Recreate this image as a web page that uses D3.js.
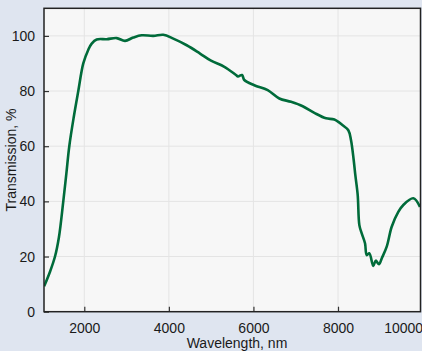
<!DOCTYPE html>
<html><head><meta charset="utf-8">
<script src="https://cdn.jsdelivr.net/npm/d3@7"></script>
<style>
html,body{margin:0;padding:0;background:#dfe5f0;}
svg{display:block;font-family:"Liberation Sans",Arial,sans-serif;}
</style></head>
<body><svg id="c" width="422" height="351"></svg>
<script>
const wavelength = [1050,1189,1307,1400,1503,1575,1645,1750,1858,1976,2095,2175,2293,2530,2766,2963,3159,3358,3632,3868,4105,4422,4737,4997,5312,5588,5635,5730,5784,6021,6338,6612,6889,7166,7440,7717,7913,8111,8244,8308,8371,8410,8466,8505,8561,8639,8679,8740,8835,8892,8970,9034,9152,9270,9426,9545,9781,9939];
const transmission = [9.2,14.5,20,27,40,50,60,70.5,80,90,95,97.2,98.7,98.8,99.2,98.2,99.4,100.2,100,100.4,99,96.6,93.6,91,88.8,85.8,85.3,85.8,84.0,82.1,80.3,77.3,76.1,74.5,72.1,70.1,69.7,67.6,65.8,62.2,55,49.5,42.3,31.4,28.4,24.8,20.5,21.2,16.6,18.5,17.2,19.3,23.6,30.8,36.2,38.7,41.1,38];
const xTicks = [2000,4000,6000,8000,10000];
const yTicks = [0,20,40,60,80,100];
const xLabel = "Wavelength, nm";
const yLabel = "Transmission, %";

const svg = d3.select("#c");
const L=44, R=420.5, T=8.3, B=311.7;
const x = d3.scaleLinear().domain([1047,9951]).range([L,R]);
const y = d3.scaleLinear().domain([0,110]).range([B,T]);

svg.append("rect").attr("x",L).attr("y",T).attr("width",R-L).attr("height",B-T).attr("fill","#f7f7f7");

// grid
svg.append("g").selectAll("line").data(xTicks.filter(d=>x(d)<R)).join("line")
  .attr("x1",d=>x(d)).attr("x2",d=>x(d)).attr("y1",T).attr("y2",B)
  .attr("stroke","#e4e4e4").attr("stroke-width",1);
svg.append("g").selectAll("line").data(yTicks.filter(d=>d>0)).join("line")
  .attr("y1",d=>y(d)).attr("y2",d=>y(d)).attr("x1",L).attr("x2",R)
  .attr("stroke","#e4e4e4").attr("stroke-width",1);

const data = wavelength.map((w,i)=>[w,transmission[i]]);
const line = d3.line().x(d=>x(d[0])).y(d=>y(d[1])).curve(d3.curveCatmullRom.alpha(0.5));
svg.append("defs").append("clipPath").attr("id","clip").append("rect")
  .attr("x",L).attr("y",T).attr("width",R-L).attr("height",B-T);
svg.append("path").datum(data).attr("d",line).attr("fill","none")
  .attr("stroke","#006b3a").attr("stroke-width",2.6).attr("stroke-linejoin","round")
  .attr("clip-path","url(#clip)");

// axes
const xAxis = svg.append("g").attr("transform",`translate(0,${B})`)
  .call(d3.axisBottom(x).tickValues(xTicks).tickSize(-5).tickPadding(10).tickFormat(d3.format("d")));
xAxis.select(".domain").remove();
xAxis.selectAll("line").attr("stroke","#333").attr("stroke-width",1.2);
xAxis.selectAll("text").attr("font-size",14).attr("fill","#1a1a1a").attr("font-family","Liberation Sans, Arial, sans-serif")
  .attr("dy","0.71em").attr("y",11);
xAxis.selectAll(".tick").filter(d=>d===10000).select("text").attr("text-anchor","end");

const yAxis = svg.append("g").attr("transform",`translate(${L},0)`)
  .call(d3.axisLeft(y).tickValues(yTicks).tickSize(-5).tickPadding(9));
yAxis.select(".domain").remove();
yAxis.selectAll("line").attr("stroke","#333").attr("stroke-width",1.2);
yAxis.selectAll("text").attr("font-size",14).attr("fill","#1a1a1a").attr("font-family","Liberation Sans, Arial, sans-serif");

svg.append("rect").attr("x",L).attr("y",T).attr("width",R-L).attr("height",B-T)
  .attr("fill","none").attr("stroke","#222").attr("stroke-width",1.5);

svg.append("text").attr("x",237).attr("y",348).attr("text-anchor","middle")
  .attr("font-size",14).attr("fill","#1a1a1a").text(xLabel);
svg.append("text").attr("transform",`translate(16,${(T+B)/2}) rotate(-90)`).attr("text-anchor","middle")
  .attr("font-size",14).attr("fill","#1a1a1a").text(yLabel);
</script></body></html>
